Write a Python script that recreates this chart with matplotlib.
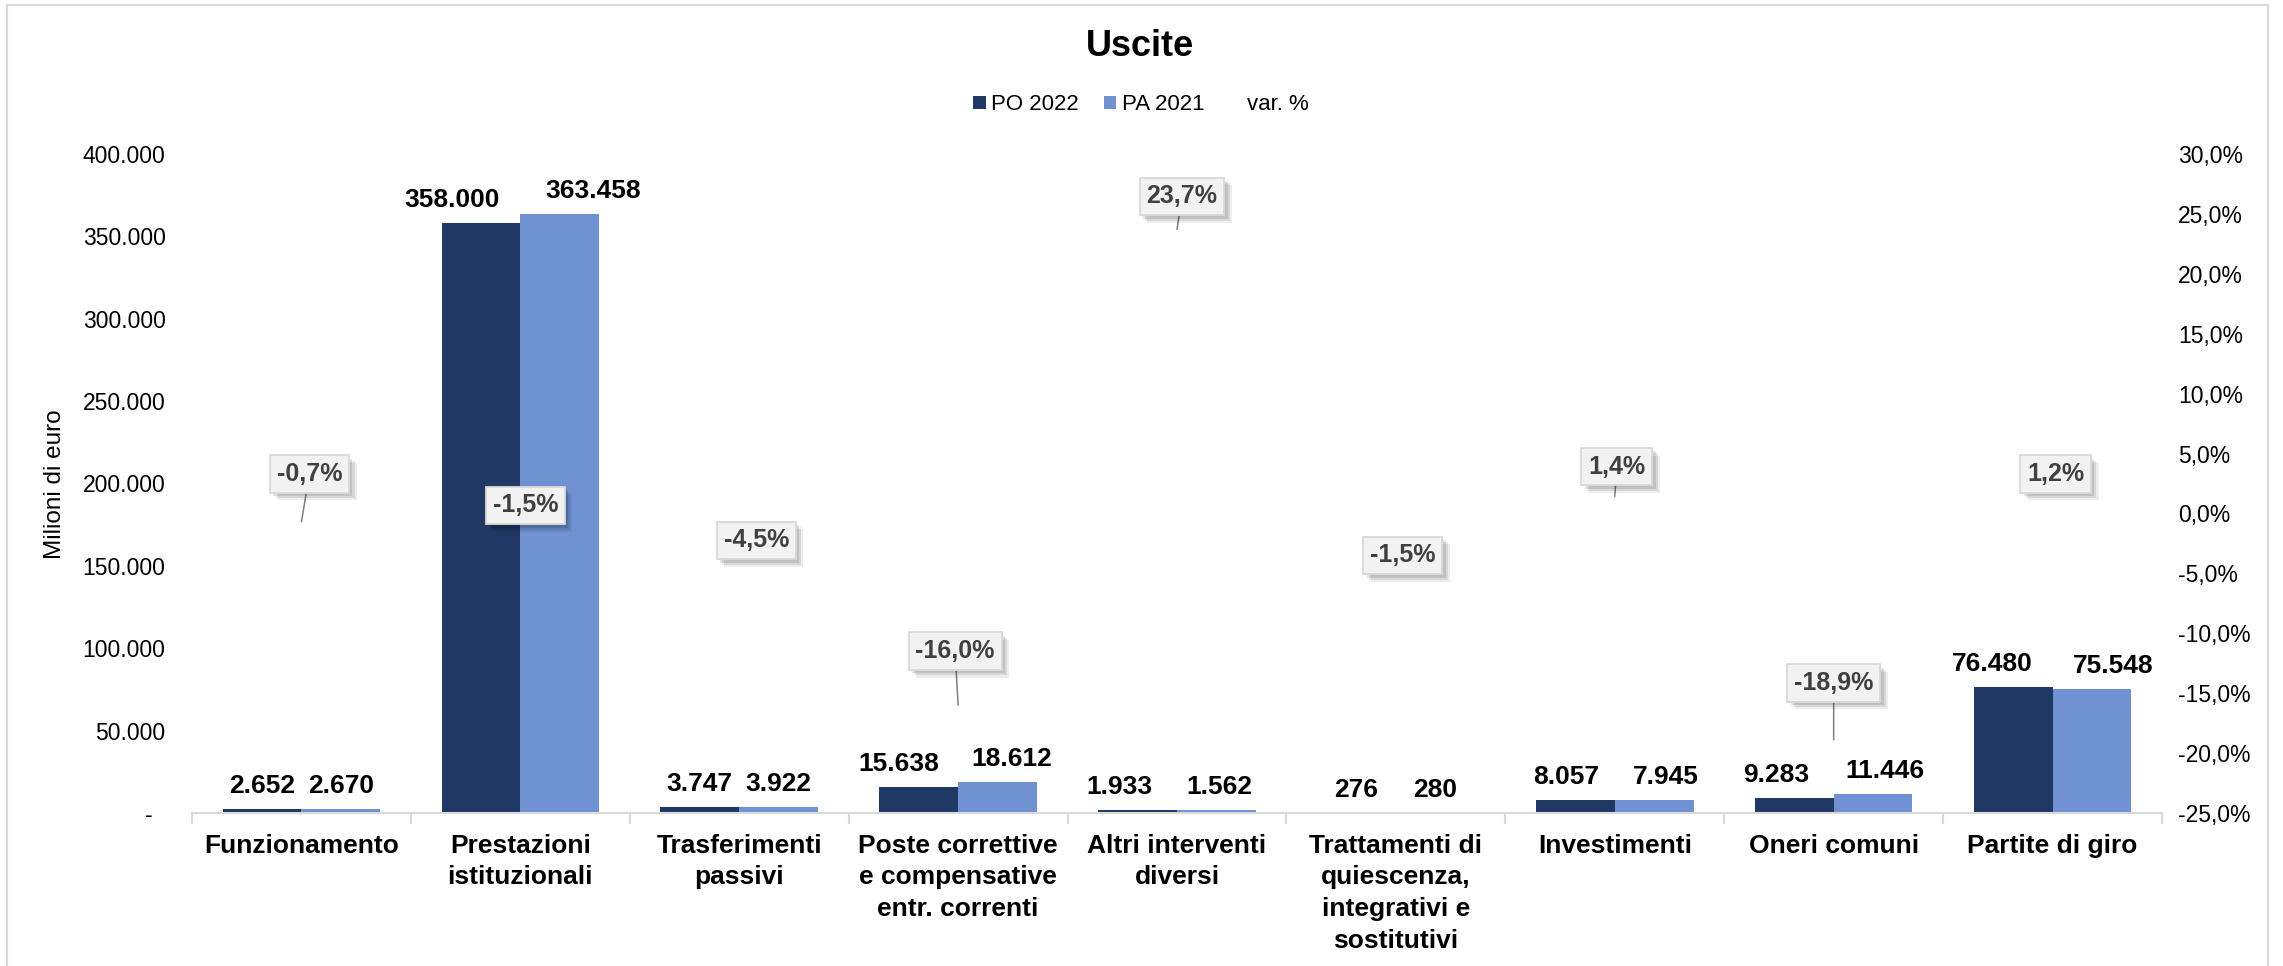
import matplotlib
matplotlib.use("Agg")
import matplotlib.pyplot as plt
import matplotlib.patheffects as pe
from matplotlib.patches import Patch, Rectangle
from matplotlib.lines import Line2D
from matplotlib.ticker import FuncFormatter
import numpy as np

plt.rcParams['font.family'] = ['Liberation Sans', 'DejaVu Sans']

# ---- data (milioni di euro) ----
categories = [
    "Funzionamento",
    "Prestazioni\nistituzionali",
    "Trasferimenti\npassivi",
    "Poste correttive\ne compensative\nentr. correnti",
    "Altri interventi\ndiversi",
    "Trattamenti di\nquiescenza,\nintegrativi e\nsostitutivi",
    "Investimenti",
    "Oneri comuni",
    "Partite di giro",
]
po_2022 = [2652, 358000, 3747, 15638, 1933, 276, 8057, 9283, 76480]
pa_2021 = [2670, 363458, 3922, 18612, 1562, 280, 7945, 11446, 75548]
var_pct = [-0.7, -1.5, -4.5, -16.0, 23.7, -1.5, 1.4, -18.9, 1.2]
series_names = ["PO 2022", "PA 2021", "var. %"]

# ---- styling ----
DARK = "#203864"
LIGHT = "#7092d2"
GRID_GRAY = "#d9d9d9"
W, H = 2283, 966

# label placement (pixels)
po_label_dx = [0, -29, 0, -20, -18, 0, -9, -18, -21]
pa_label_dx = [0, 33, 0, 14, 3, 0, 12, 12, 21]
var_label_offset = [(8, 48), (5, 26), (17, 27), (-3, 54), (5, 33),
                    (7, -24), (2, 30), (0, 57), (3, 25)]
var_leader = [True, False, False, True, True, False, True, True, False]


def fmt_thousands(v):
    return f"{int(round(v)):,}".replace(",", ".")


def fmt_pct(v):
    return f"{v:.1f}%".replace(".", ",")


fig = plt.figure(figsize=(W / 100, H / 100), dpi=100)
fig.patch.set_facecolor("white")

left_px, right_px, top_px, bottom_px = 192, 2162, 154, 813
ax = fig.add_axes([left_px / W, 1 - bottom_px / H,
                   (right_px - left_px) / W, (bottom_px - top_px) / H])
x = np.arange(len(categories))
bw = 0.36

ax.bar(x - bw / 2, po_2022, bw, color=DARK, linewidth=0, zorder=2)
ax.bar(x + bw / 2, pa_2021, bw, color=LIGHT, linewidth=0, zorder=2)

ax.set_xlim(-0.5, len(categories) - 0.5)
ax.set_ylim(0, 400000)
ax.set_yticks(np.arange(0, 400001, 50000))
ax.yaxis.set_major_formatter(FuncFormatter(
    lambda v, _: "-  " if v == 0 else fmt_thousands(v)))
ax.tick_params(axis="y", length=0, pad=19, labelsize=16.5)

ax.set_xticks(x)
ax.set_xticklabels(categories, fontsize=19, fontweight="bold", linespacing=1.4)
ax.set_xticks(np.arange(-0.5, len(categories), 1), minor=True)
ax.tick_params(axis="x", which="major", length=0, pad=15)
ax.tick_params(axis="x", which="minor", length=8, width=1.5,
               color=GRID_GRAY, direction="out")
for s in ("top", "right", "left"):
    ax.spines[s].set_visible(False)
ax.spines["bottom"].set_color(GRID_GRAY)
ax.spines["bottom"].set_linewidth(1.5)

# value labels on bars
for i in range(len(categories)):
    ax.annotate(fmt_thousands(po_2022[i]), xy=(x[i] - bw / 2, po_2022[i]),
                xytext=(po_label_dx[i], 16), textcoords="offset pixels",
                ha="center", va="baseline", fontsize=19, fontweight="bold",
                color="black", zorder=4)
    ax.annotate(fmt_thousands(pa_2021[i]), xy=(x[i] + bw / 2, pa_2021[i]),
                xytext=(pa_label_dx[i], 16), textcoords="offset pixels",
                ha="center", va="baseline", fontsize=19, fontweight="bold",
                color="black", zorder=4)

# secondary axis for the percentage change
ax2 = ax.twinx()
ax2.set_ylim(-25, 30)
ax2.set_yticks(np.arange(-25, 31, 5))
ax2.yaxis.set_major_formatter(FuncFormatter(lambda v, _: fmt_pct(v)))
ax2.tick_params(axis="y", length=0, pad=11.5, labelsize=16.5)
for s in ax2.spines.values():
    s.set_visible(False)

shadow = [
    pe.SimplePatchShadow(offset=(2.5, -2.5), shadow_rgbFace="black", alpha=0.10),
    pe.SimplePatchShadow(offset=(4, -4), shadow_rgbFace="black", alpha=0.09),
    pe.SimplePatchShadow(offset=(5.5, -5.5), shadow_rgbFace="black", alpha=0.07),
    pe.Normal(),
]
for i, v in enumerate(var_pct):
    dx, dy = var_label_offset[i]
    arrow = None
    if var_leader[i]:
        arrow = dict(arrowstyle="-", color="#7f7f7f", lw=1.1,
                     shrinkA=0, shrinkB=0)
    ann = ax2.annotate(fmt_pct(v), xy=(x[i], v), xytext=(dx, dy),
                       textcoords="offset pixels", ha="center", va="center",
                       fontsize=18, fontweight="bold", color="#404040",
                       bbox=dict(boxstyle="square,pad=0.27", fc="#f2f2f2",
                                 ec=GRID_GRAY, lw=1.3),
                       arrowprops=arrow, zorder=6)
    ann.get_bbox_patch().set_path_effects(shadow)

# title, axis label, legend
fig.text(1140 / W, 1 - 46 / H, "Uscite", ha="center", va="center",
         fontsize=26, fontweight="bold")
fig.text(55 / W, 1 - 484 / H, "Milioni di euro", rotation=90,
         ha="center", va="center", fontsize=17.5)

handles = [Patch(facecolor=DARK, edgecolor="none"),
           Patch(facecolor=LIGHT, edgecolor="none"),
           Line2D([], [], color="none")]
fig.legend(handles, series_names, loc="center", bbox_to_anchor=(1141 / W, 1 - 105 / H),
           ncol=3, frameon=False, fontsize=16, handlelength=0.56,
           handleheight=0.56, handletextpad=0.25, columnspacing=1.1)

# chart border
fig.patches.append(Rectangle((7 / W, -0.01), (2268 - 7) / W, 1 - 5 / H + 0.01,
                             transform=fig.transFigure, fill=False,
                             edgecolor=GRID_GRAY, linewidth=1.5))

fig.savefig("out.png", dpi=100, facecolor="white")
